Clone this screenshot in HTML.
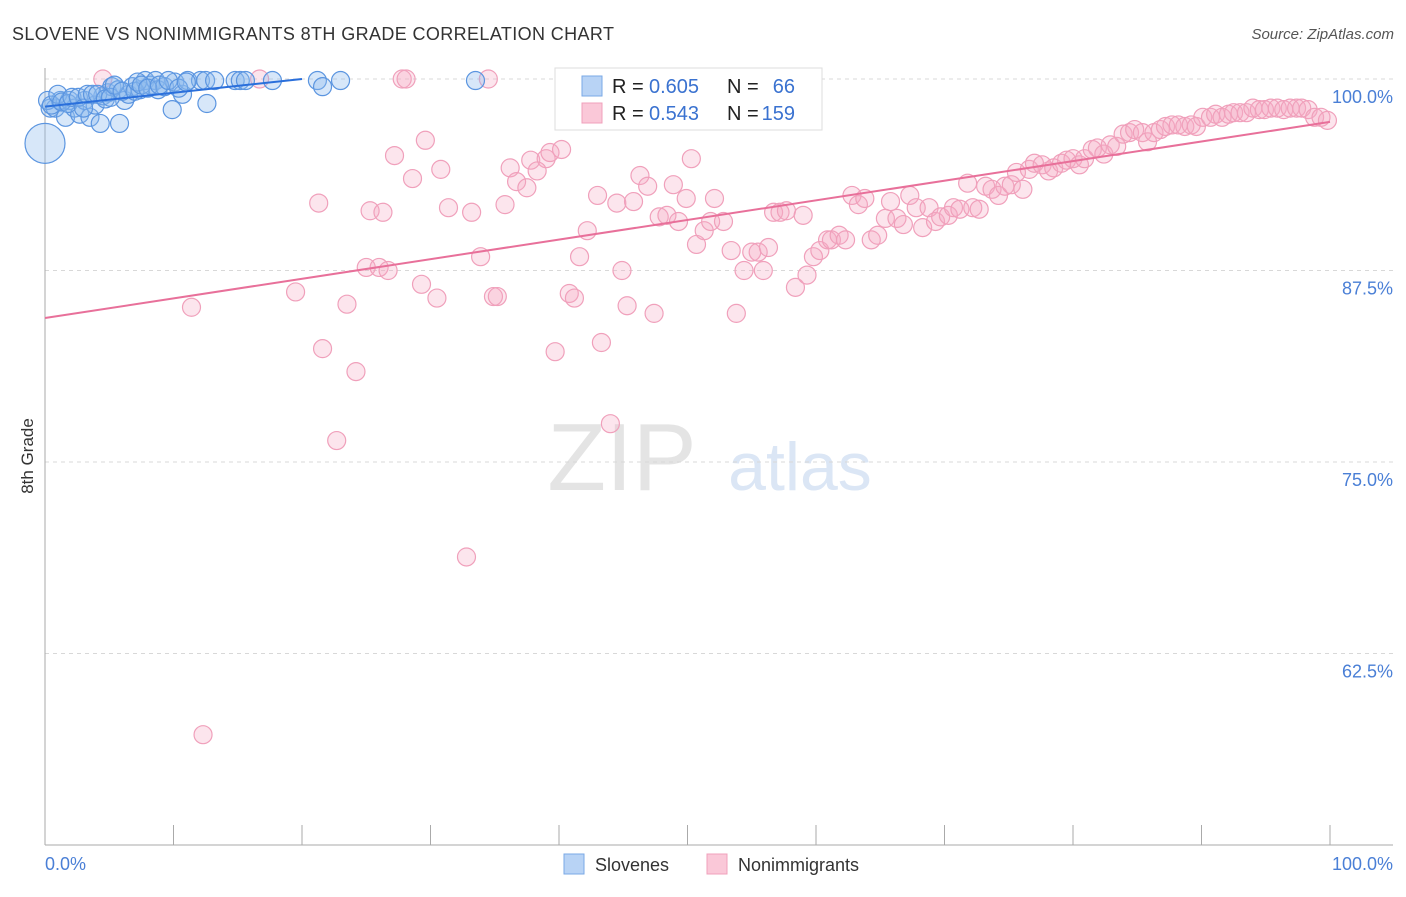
<!DOCTYPE html>
<html><head><meta charset="utf-8"><style>
body{margin:0;background:#fff;font-family:"Liberation Sans",sans-serif;}
svg text{font-family:"Liberation Sans",sans-serif;}
</style></head><body>
<svg id="chart" width="1406" height="892">
<text x="12" y="40" font-size="18" fill="#333" textLength="602">SLOVENE VS NONIMMIGRANTS 8TH GRADE CORRELATION CHART</text>
<text x="1394" y="39" font-size="15" fill="#555" text-anchor="end" font-style="italic">Source: ZipAtlas.com</text>
<text x="622" y="490" font-size="96" fill="#e4e4e4" font-family="Liberation Serif" text-anchor="middle">ZIP</text>
<text x="800" y="490" font-size="68" fill="#dbe6f5" text-anchor="middle">atlas</text>
<g id="grid"></g><g id="axes"></g><g id="pink"></g><g id="blue"></g><g id="trends"></g>
<text transform="translate(33,456) rotate(-90)" font-size="17" fill="#333" text-anchor="middle">8th Grade</text>
<text x="45" y="870" font-size="18" fill="#4a7fd6">0.0%</text>
<text x="1393" y="870" font-size="18" fill="#4a7fd6" text-anchor="end">100.0%</text>
<g>
<rect x="555" y="68" width="267" height="62" fill="#fff" stroke="#ddd"/>
<rect x="582" y="76" width="20" height="20" fill="#b8d3f5" stroke="#7aa8e6"/>
<rect x="582" y="103" width="20" height="20" fill="#fac8d8" stroke="#f0a0bb"/>
<text x="612" y="93" font-size="20" fill="#222">R =</text>
<text x="649" y="93" font-size="20" fill="#3a72d0">0.605</text>
<text x="727" y="93" font-size="20" fill="#222">N =</text>
<text x="795" y="93" font-size="20" fill="#3a72d0" text-anchor="end">66</text>
<text x="612" y="120" font-size="20" fill="#222">R =</text>
<text x="649" y="120" font-size="20" fill="#3a72d0">0.543</text>
<text x="727" y="120" font-size="20" fill="#222">N =</text>
<text x="795" y="120" font-size="20" fill="#3a72d0" text-anchor="end">159</text>
</g>
<g>
<rect x="564" y="854" width="20" height="20" fill="#b8d3f5" stroke="#7aa8e6"/>
<text x="595" y="871" font-size="18" fill="#333">Slovenes</text>
<rect x="707" y="854" width="20" height="20" fill="#fac8d8" stroke="#f0a0bb"/>
<text x="738" y="871" font-size="18" fill="#333">Nonimmigrants</text>
</g>
</svg>
<script>
const yTicks=[100,87.5,75,62.5];
const yTickLabels=["100.0%","87.5%","75.0%","62.5%"];
const xTicks=[0,10,20,30,40,50,60,70,80,90,100];
const blueX=[0,0.4,0.8,1.2,1.6,1.9,2.3,2.7,3.1,3.5,3.9,4.3,4.5,4.9,5.2,5.7,5.8,6.2,6.5,6.8,7.4,7.8,8.2,8.6,8.8,9.3,9.9,10.1,10.7,11.1,12.1,12.5,12.6,13.2,14.8,15.2,15.6,17.7,21.2,21.6,23.0,33.5,0.2,0.5,1.0,1.3,1.8,2.1,2.6,3.0,3.3,3.7,4.1,4.7,5.1,5.4,6.0,7.0,7.2,7.5,8.0,8.9,9.6,10.4,11.0];
const blueY=[95.8,98.1,98.1,98.6,97.5,98.6,98.1,97.7,98.6,97.5,98.3,97.1,98.9,99.1,99.5,99.3,97.1,98.6,99.0,99.5,99.3,99.9,99.6,99.9,99.3,99.5,98.0,99.8,99.0,99.9,99.9,99.9,98.4,99.9,99.9,99.9,99.9,99.9,99.9,99.5,99.9,99.9,98.6,98.3,99.0,98.5,98.4,98.8,98.8,98.1,99.0,99.0,99.0,98.7,98.8,99.6,99.2,99.2,99.8,99.6,99.4,99.6,99.9,99.4,99.8];
const pinkX=[4.5,16.7,27.8,28.1,34.5,11.4,19.5,21.3,21.6,23.5,24.2,22.7,32.8,12.3,25.0,26.0,26.7,25.3,26.3,27.2,28.6,29.6,29.3,30.5,30.8,31.4,33.2,33.9,34.9,35.2,35.8,36.2,36.7,37.5,37.8,39.0,39.3,40.2,38.3,39.7,40.8,41.2,41.6,42.2,43.0,43.3,44.0,44.5,44.9,45.3,45.8,46.3,46.9,47.4,47.8,48.4,48.9,49.3,49.9,50.3,50.7,51.3,51.8,52.1,52.8,53.4,53.8,54.4,55.0,55.5,55.9,56.3,56.7,57.2,57.7,58.4,59.0,59.3,59.8,60.3,60.9,61.2,61.8,62.3,62.8,63.3,63.8,64.3,64.8,65.4,65.8,66.3,66.8,67.3,67.8,68.3,68.8,69.3,69.7,70.3,70.7,71.2,71.8,72.2,72.7,73.2,73.7,74.2,74.7,75.2,75.6,76.1,76.6,77.0,77.6,78.1,78.5,79.1,79.5,80.0,80.5,80.9,81.5,81.9,82.4,82.9,83.4,83.9,84.4,84.8,85.4,85.8,86.3,86.8,87.2,87.7,88.2,88.7,89.2,89.6,90.1,90.7,91.1,91.6,92.1,92.5,93.0,93.5,94.0,94.5,94.9,95.4,95.9,96.4,96.9,97.4,97.8,98.3,98.8,99.3,99.8];
const pinkY=[100,100,100,100,100,85.1,86.1,91.9,82.4,85.3,80.9,76.4,68.8,57.2,87.7,87.7,87.5,91.4,91.3,95.0,93.5,96.0,86.6,85.7,94.1,91.6,91.3,88.4,85.8,85.8,91.8,94.2,93.3,92.9,94.7,94.8,95.2,95.4,94.0,82.2,86.0,85.7,88.4,90.1,92.4,82.8,77.5,91.9,87.5,85.2,92.0,93.7,93.0,84.7,91.0,91.1,93.1,90.7,92.2,94.8,89.2,90.1,90.7,92.2,90.7,88.8,84.7,87.5,88.7,88.7,87.5,89.0,91.3,91.3,91.4,86.4,91.1,87.2,88.4,88.8,89.5,89.5,89.8,89.5,92.4,91.8,92.2,89.5,89.8,90.9,92.0,90.9,90.5,92.4,91.6,90.3,91.6,90.7,91.0,91.1,91.6,91.5,93.2,91.6,91.5,93.0,92.8,92.4,93.0,93.1,93.9,92.8,94.1,94.5,94.4,94.0,94.2,94.5,94.7,94.8,94.4,94.8,95.4,95.5,95.1,95.7,95.6,96.4,96.5,96.7,96.5,95.9,96.5,96.7,96.9,97.0,97.0,96.9,97.0,96.9,97.5,97.5,97.7,97.5,97.7,97.8,97.8,97.8,98.1,98.0,98.0,98.1,98.1,98.0,98.1,98.1,98.1,98.0,97.5,97.5,97.3];
const blueTrend=[[0,98.2],[20,100]];
const pinkTrend=[[0,84.4],[100,97.2]];
const NS='http://www.w3.org/2000/svg';
const X0=45,X1=1330,YTOP=79,PXPER=191.5/12.5;
function sx(v){return X0+(X1-X0)*v/100;}
function sy(v){return YTOP+(100-v)*PXPER;}
function mk(tag,attrs,parent){const e=document.createElementNS(NS,tag);for(const k in attrs)e.setAttribute(k,attrs[k]);document.getElementById(parent).appendChild(e);return e;}
yTicks.forEach((t,i)=>{
 const l=mk('line',{x1:45,x2:1393,y1:sy(t),y2:sy(t),stroke:'#d8d8d8','stroke-dasharray':'4,4'},'grid');
 
 
 const tx=mk('text',{x:1393,y:sy(t)+24,'font-size':18,fill:'#4a7fd6','text-anchor':'end'},'grid');
 tx.textContent=yTickLabels[i];
 
 
});
const ya=mk('line',{x1:45,x2:45,y1:68,y2:845,stroke:'#aaa'},'axes');


const xa=mk('line',{x1:45,x2:1393,y1:845,y2:845,stroke:'#aaa'},'axes');


xTicks.forEach(t=>{
 const l=mk('line',{x1:sx(t),x2:sx(t),y1:825,y2:845,stroke:'#aaa'},'axes');
 
 
});
pinkX.forEach((v,i)=>{
 const c=mk('circle',{cx:sx(v),cy:sy(pinkY[i]),r:9,fill:'rgba(246,170,196,0.3)',stroke:'#f0a0bb','stroke-width':1.2},'pink');
 
 
});
blueX.forEach((v,i)=>{
 const c=mk('circle',{cx:sx(v),cy:sy(blueY[i]),r:i===0?20:9,fill:'rgba(140,185,238,0.35)',stroke:'#5b95e0','stroke-width':1.2},'blue');
 
 
});
const pt=mk('line',{x1:sx(pinkTrend[0][0]),y1:sy(pinkTrend[0][1]),x2:sx(pinkTrend[1][0]),y2:sy(pinkTrend[1][1]),stroke:'#e8709a','stroke-width':2},'trends');


const bt=mk('line',{x1:sx(blueTrend[0][0]),y1:sy(blueTrend[0][1]),x2:sx(blueTrend[1][0]),y2:sy(blueTrend[1][1]),stroke:'#2a6fdb','stroke-width':2},'trends');


</script>
</body></html>
